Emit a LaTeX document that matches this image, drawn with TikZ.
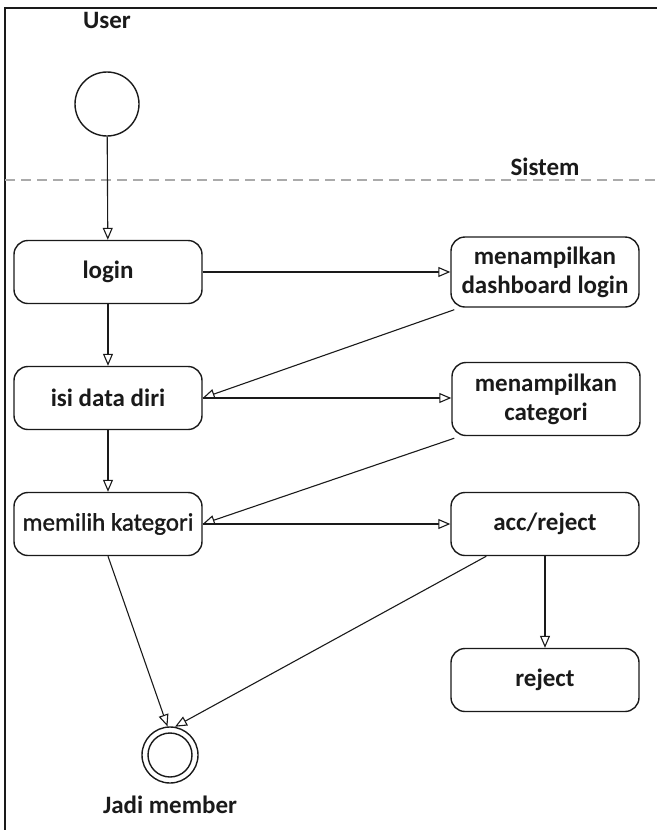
\documentclass[tikz,border=0pt]{standalone}
\usepackage{fontspec}
\setmainfont{Carlito}
\newfontfamily\semibold[FakeBold=1.3]{Carlito}
\usetikzlibrary{arrows.meta,calc}
\definecolor{ink}{HTML}{1A1A1A}
\definecolor{lane}{HTML}{AAAAAA}
\begin{document}
\begin{tikzpicture}[x=1pt,y=-1pt,
  font=\fontsize{25}{29}\selectfont\bfseries,
  act/.style={draw=ink,line width=1.4pt,rounded corners=14pt,minimum width=188pt,
    minimum height=63pt,inner sep=0pt,align=center,text=ink},
  flow/.style={draw=ink,line width=1.1pt,-{Triangle[length=12pt,width=10pt,fill=white,line width=1.1pt]}},
  lbl/.style={text=ink,inner sep=0pt}]
\useasboundingbox (0,0) rectangle (657,830);
% frame and swimlane divider
\draw[line width=2pt,ink] (5,830) -- (5,8) -- (657,8);
\draw[lane,line width=1.2pt,dash pattern=on 10pt off 6pt] (5,180) -- (657,180);
% lane titles
\node[lbl] (user) at (107,20) {User};
\node[lbl] (sistem) at (545,167) {Sistem};
% start / end
\node[circle,draw=ink,line width=1.4pt,minimum size=64pt,inner sep=0pt] (start) at (107,104) {};
\node[circle,draw=ink,line width=1.4pt,minimum size=56pt,inner sep=0pt] (final) at (170,755) {};
\node[circle,draw=ink,line width=1.4pt,minimum size=44pt,inner sep=0pt] (finalin) at (170,755) {};
\node[lbl] (jadi) at (170,805) {Jadi member};
% user activities
\node[act] (login) at (108,272) {login};
\node[act] (isi) at (108,398) {isi data diri};
\node[act,font=\fontsize{25}{29}\semibold] (pilih) at (108,524) {memilih kategori};
% system activities
\node[act,minimum height=70pt] (dash) at (545,272) {menampilkan\\dashboard login};
\node[act,minimum height=73pt] (cat) at (546,399) {menampilkan\\categori};
\node[act] (acc) at (545,524) {acc/reject};
\node[act] (rej) at (545,680) {reject};
% flows
\draw[flow] (start) -- (login);
\draw[flow] (login) -- (isi);
\draw[flow] (isi) -- (pilih);
\draw[flow] (login.east) -- (login.east -| dash.west);
\draw[flow] ($(dash.south west)+(4,2)$) -- (isi.east);
\draw[flow] (isi.east) -- (isi.east -| cat.west);
\draw[flow] ($(cat.south west)+(3,2)$) -- (pilih.east);
\draw[flow] (pilih.east) -- (pilih.east -| acc.west);
\draw[flow] (acc) -- (rej);
\draw[flow] (pilih.south) -- (final.95);
\draw[flow] ($(acc.south west)+(36,0)$) -- (final.80);
\end{tikzpicture}
\end{document}
